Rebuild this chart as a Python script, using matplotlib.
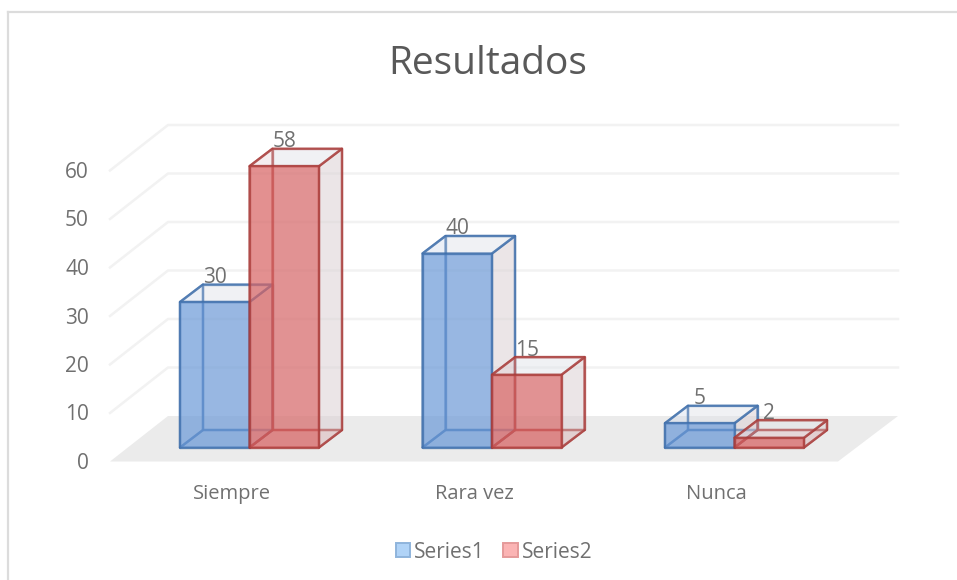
import matplotlib
matplotlib.use("Agg")
import matplotlib.pyplot as plt
from matplotlib.patches import Polygon, Patch

categories = ["Siempre", "Rara vez", "Nunca"]
series1 = [30, 40, 5]
series2 = [58, 15, 2]
y_ticks = [0, 10, 20, 30, 40, 50, 60]
series_names = ["Series1", "Series2"]

W, H = 957, 580
PX_X = 242.5   # pixels per category
PX_Y = 4.85    # pixels per value unit
X0, Y0 = 249.5, 447.5  # pixel position of first category centre, value 0 (front)

GREY = "#707070"
plt.rcParams["font.family"] = ["Open Sans", "DejaVu Sans"]

fig = plt.figure(figsize=(W / 100, H / 100), dpi=100)
ax = fig.add_axes([0, 0, 1, 1])
ax.set_xlim(-X0 / PX_X, (W - X0) / PX_X)
ax.set_ylim((Y0 - H) / PX_Y, Y0 / PX_Y)
ax.axis("off")

bar_w = 69.5 / PX_X
dx = 23 / PX_X
dy = 17.5 / PX_Y


def px(x):
    return (x - X0) / PX_X


def py(y):
    return (Y0 - y) / PX_Y


# chart frame
ax.plot([px(8), px(8)], [py(580), py(12)], color="#dcdcdc", lw=1.6, zorder=1)
ax.plot([px(8), px(957)], [py(12), py(12)], color="#dcdcdc", lw=1.6, zorder=1)

# floor
ax.add_patch(Polygon([(px(110), py(461.5)), (px(168), py(416)), (px(898), py(416)), (px(838), py(461.5))],
                     closed=True, fc="#ebebeb", ec="none", zorder=1))

# wall gridlines
wall_off = py(416)
side_off = py(461.5)
for t in y_ticks[1:]:
    ax.plot([px(110), px(168), px(898)], [side_off + t, wall_off + t, wall_off + t],
            color="#f2f2f2", lw=1.8, solid_joinstyle="round", zorder=1.5)
for t in y_ticks:
    ax.text(px(89), side_off + t - 2 / PX_Y, str(t), ha="right", va="center", fontsize=15, color=GREY, zorder=6)


def box(x_left, val, edge, front, z):
    xl, xr = x_left, x_left + bar_w
    f = lambda pts, fc, a, lw=1.7: ax.add_patch(
        Polygon(pts, closed=True, facecolor=matplotlib.colors.to_rgba(fc, a),
                edgecolor=matplotlib.colors.to_rgba(edge, 0.7), lw=lw, joinstyle="round", zorder=z))
    # back
    f([(xl + dx, dy), (xr + dx, dy), (xr + dx, val + dy), (xl + dx, val + dy)], "#d8dbe2", 0.25)
    # floor of the box
    f([(xl, 0), (xr, 0), (xr + dx, dy), (xl + dx, dy)], front, 0.18)
    # left side
    f([(xl, 0), (xl + dx, dy), (xl + dx, val + dy), (xl, val)], front, 0.10)
    # right side
    f([(xr, 0), (xr + dx, dy), (xr + dx, val + dy), (xr, val)], "#dccfd1", 0.40)
    # top
    f([(xl, val), (xr, val), (xr + dx, val + dy), (xl + dx, val + dy)], "#e4e8ef", 0.25)
    # front
    f([(xl, 0), (xr, 0), (xr, val), (xl, val)], front, 0.68)


BLUE_E, BLUE_F = "#3f6fab", "#6c9ad8"
RED_E, RED_F = "#a93c3a", "#d86464"
for i in range(len(categories)):
    box(i - bar_w, series1[i], BLUE_E, BLUE_F, 3 + i * 0.1)
    box(i, series2[i], RED_E, RED_F, 3.05 + i * 0.1)
    ax.text(i - bar_w / 2, series1[i] + 24.5 / PX_Y, str(series1[i]), ha="center", va="center",
            fontsize=15, color=GREY, zorder=6)
    ax.text(i + bar_w / 2, series2[i] + 24.5 / PX_Y, str(series2[i]), ha="center", va="center",
            fontsize=15, color=GREY, zorder=6)
    ax.text(i - 18 / PX_X, py(494), categories[i], ha="center", va="center",
            fontsize=14.5, color=GREY, zorder=6)

ax.text(px(488), py(64), "Resultados", ha="center", va="center", fontsize=28,
        color="#595959", zorder=6)

handles = [Patch(facecolor="#b0d3f7", edgecolor="#8fb4dc", lw=1.4, label=series_names[0]),
           Patch(facecolor="#fbb4b4", edgecolor="#e59a9a", lw=1.4, label=series_names[1])]
ax.legend(handles=handles, ncol=2, loc="center", bbox_to_anchor=(494 / W, 1 - 552 / H), frameon=False,
          fontsize=15, labelcolor=GREY, handlelength=0.68, handleheight=0.68, handletextpad=0.2,
          columnspacing=0.9, borderpad=0)

fig.savefig("out.png", dpi=100, facecolor="white")
